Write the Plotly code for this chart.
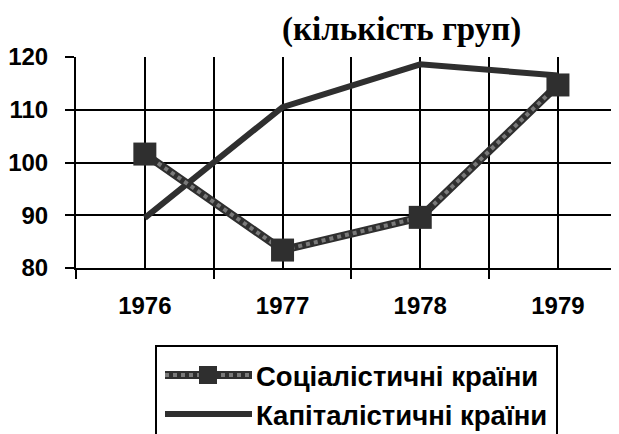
import plotly.graph_objects as go

years = ["1976", "1977", "1978", "1979"]
socialist = [101.6, 83.4, 89.6, 114.7]
capitalist = [89.5, 110.5, 118.6, 116.5]
series_names = ["Соціалістичні країни", "Капіталістичні країни"]
title_text = "(кількість груп)"

xpos = list(range(len(years)))

# page body margin shifts the figure by 8px; work in reference pixels
OFF = 8
W, H = 619, 434
L, T = 76 - OFF, 57 - OFF
BOTTOM = 268 - OFF
R = 0
B = H - BOTTOM
pw, ph = W - L - R, BOTTOM - T


def px(x):
    return (x - OFF - L) / pw


def py(y):
    return (BOTTOM - (y - OFF)) / ph


DARK = "#2f2f2f"
GRAYDOT = "#7a7a7a"
CAT_PX = 137.7

fig = go.Figure()
fig.add_trace(go.Scatter(x=xpos, y=capitalist, mode="lines", name=series_names[1],
                         line=dict(color=DARK, width=6), showlegend=False))
fig.add_trace(go.Scatter(x=xpos, y=socialist, mode="lines",
                         line=dict(color=DARK, width=8),
                         showlegend=False, hoverinfo="skip"))
fig.add_trace(go.Scatter(x=xpos, y=socialist, mode="lines+markers", name=series_names[0],
                         line=dict(color=GRAYDOT, width=4, dash="dot"),
                         marker=dict(symbol="square", size=23, color=DARK),
                         showlegend=False))

ROW1, ROW2 = 375, 414
shapes = [
    dict(type="rect", xref="paper", yref="paper", x0=px(156), x1=px(557),
         y0=py(346), y1=py(460), line=dict(color="black", width=2), fillcolor="white",
         layer="above"),
    dict(type="line", xref="paper", yref="paper", x0=px(165), x1=px(252),
         y0=py(ROW1), y1=py(ROW1), line=dict(color=DARK, width=8), layer="above"),
    dict(type="line", xref="paper", yref="paper", x0=px(165), x1=px(252),
         y0=py(ROW1), y1=py(ROW1), line=dict(color=GRAYDOT, width=4, dash="dot"), layer="above"),
    dict(type="rect", xref="paper", yref="paper", x0=px(199), x1=px(217),
         y0=py(ROW1 - 9), y1=py(ROW1 + 9), line=dict(width=0), fillcolor=DARK, layer="above"),
    dict(type="line", xref="paper", yref="paper", x0=px(165), x1=px(252),
         y0=py(ROW2), y1=py(ROW2), line=dict(color=DARK, width=6), layer="above"),
]

annotations = [
    dict(text=title_text, xref="paper", yref="paper", x=px(401), y=py(30),
         xanchor="center", yanchor="middle", showarrow=False,
         font=dict(family="Liberation Serif", size=33, weight="bold", color="black")),
    dict(text=series_names[0], xref="paper", yref="paper", x=px(254), y=py(ROW1 + 1),
         xanchor="left", yanchor="middle", showarrow=False,
         font=dict(family="Liberation Sans", size=27.5, weight="bold", color="black")),
    dict(text=series_names[1], xref="paper", yref="paper", x=px(254), y=py(ROW2 + 1),
         xanchor="left", yanchor="middle", showarrow=False,
         font=dict(family="Liberation Sans", size=27.5, weight="bold", color="black")),
]

fig.update_layout(
    width=W, height=H,
    margin=dict(l=L, r=R, t=T, b=B, autoexpand=False),
    paper_bgcolor="white", plot_bgcolor="white",
    showlegend=False,
    font=dict(family="Liberation Sans", size=24, color="black", weight="bold"),
    xaxis=dict(range=[-0.5, -0.5 + pw / CAT_PX], tickvals=xpos, ticktext=years,
               showgrid=True, gridcolor="black", gridwidth=2,
               ticks="", ticklabelstandoff=15,
               showline=True, linecolor="black", linewidth=2,
               zeroline=False,
               minor=dict(tick0=-0.5, dtick=1, showgrid=True, gridcolor="black",
                          gridwidth=2, ticks="outside", ticklen=9,
                          tickcolor="black", tickwidth=2),
               tickfont=dict(family="Liberation Sans", size=24, weight="bold")),
    yaxis=dict(range=[80, 120], dtick=10, tick0=80,
               showgrid=True, gridcolor="black", gridwidth=2,
               ticks="outside", ticklen=9, tickcolor="black", tickwidth=2,
               showline=True, linecolor="black", linewidth=2, zeroline=False,
               ticklabelstandoff=12,
               tickfont=dict(family="Liberation Sans", size=24, weight="bold")),
    shapes=shapes,
    annotations=annotations,
)

fig.write_html("out.html")
